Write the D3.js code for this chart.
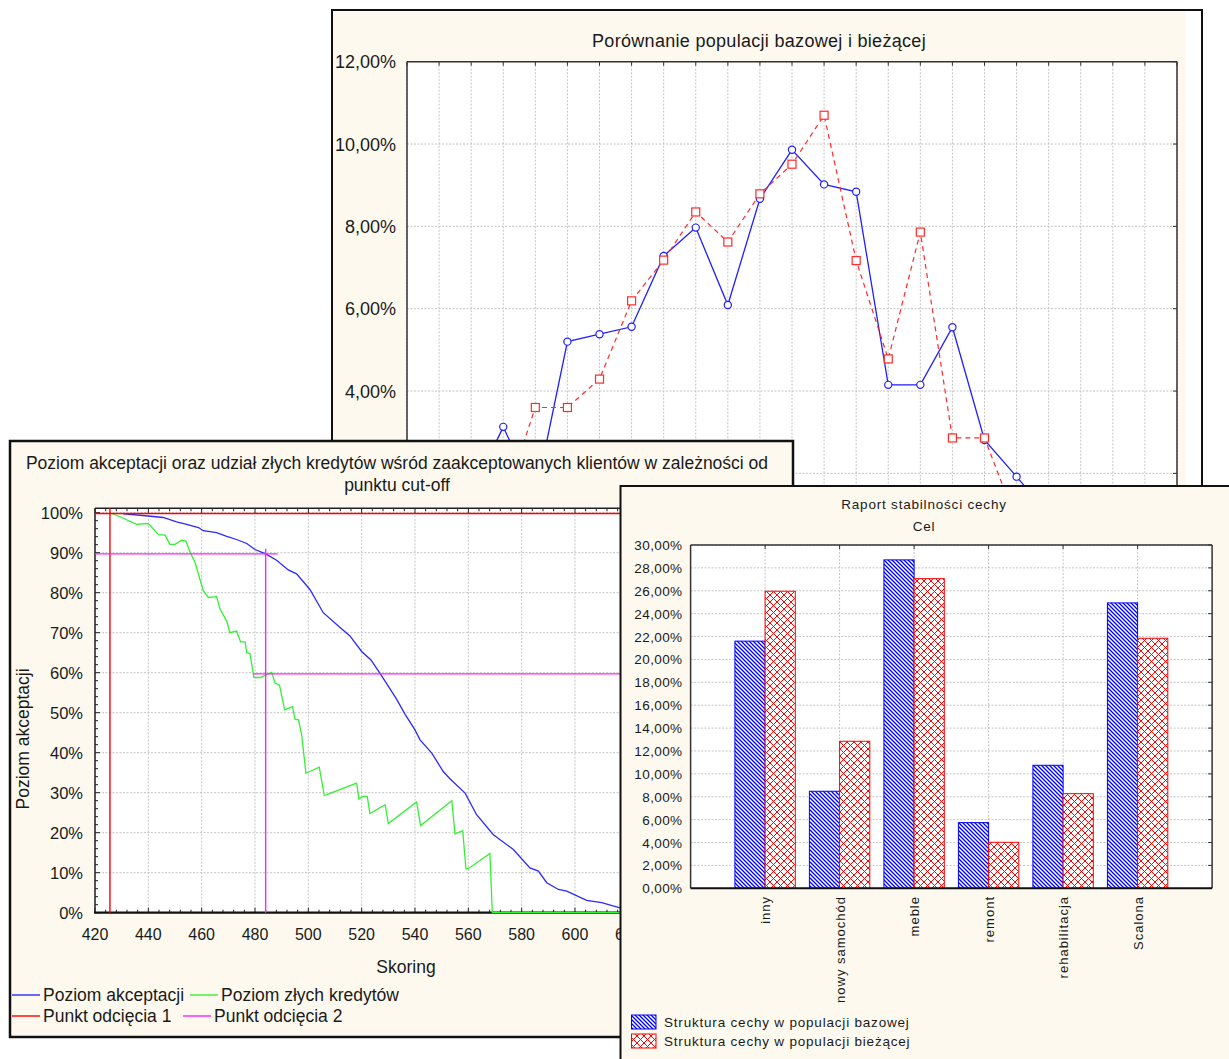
<!DOCTYPE html>
<html>
<head>
<meta charset="utf-8">
<script src="https://d3js.org/d3.v7.min.js"></script>
<style>
  body { margin: 0; background: #fff; }
  svg text { font-family: "Liberation Sans", Arial, sans-serif; fill: #1a1a1a; }
</style>
</head>
<body>
<svg id="chart" width="1229" height="1059"></svg>
<script>
// ---------- data: top chart (population comparison) ----------
var popBins = ["1","2","3","4","5","6","7","8","9","10","11","12","13",
               "14","15","16","17","18","19","20","21","22","23","24","25"];
var popBase = [0.2, 0.6, 1.5, 3.13, 1.44, 5.20, 5.38, 5.56, 7.28, 7.97, 6.09, 8.67, 9.86,
               9.02, 8.84, 4.15, 4.15, 5.55, 2.81, 1.92, 1.0, 0.6, 0.3, 0.1, 0.05];
var popCurrent = [0.1, 0.4, 0.9, 1.26, 3.60, 3.60, 4.29, 6.19, 7.18, 8.35, 7.62, 8.79, 9.51,
                  10.70, 7.17, 4.78, 7.86, 2.86, 2.86, 0.83, 0.5, 0.3, 0.1, 0.05, 0.0];
var popTicks = [0, 2, 4, 6, 8, 10, 12];

// ---------- data: left chart (acceptance vs bad rate) ----------
var acceptRate = [[430.6,99.7],[438,99.3],[445.6,98.8],[450.6,97.7],[454.4,97.1],[458.8,96.3],
  [460.6,95.5],[465.6,95.0],[469.4,94.1],[473.1,93.3],[476.9,92.3],[480,90.8],[484,89.7],
  [488.1,88.1],[492.5,85.7],[495.6,84.7],[500.6,80.8],[505.6,75.0],[511.9,71.3],[515.6,69.2],
  [520,65.3],[523.5,63.2],[527.5,59.2],[533.1,53.4],[536.3,49.6],[540,45.7],[541.9,43.2],
  [546.3,39.9],[550.6,35.3],[553.1,33.5],[558.8,29.9],[563.1,24.5],[569.4,19.5],[576.9,15.8],
  [583.1,11.2],[586.3,10.4],[589.4,7.5],[593.8,5.8],[596.9,5.4],[604.4,3.1],[610,2.5],[616.9,1.2],
  [625,0.6],[640,0.2]];
var badRate = [[426.3,99.8],[430,98.8],[435.6,97.1],[439.4,97.3],[440.5,97.0],[443.8,94.5],
  [446.3,94.4],[448.1,92.1],[450,92.1],[452.5,93.1],[454.1,92.9],[455.6,90.2],[457.5,87.6],
  [460.6,80.5],[462.5,78.8],[465.6,79.0],[466.9,75.9],[469.4,72.9],[470.6,70.0],[473.1,70.4],
  [474.6,67.7],[476.3,67.7],[476.9,65.0],[478.1,64.8],[479.6,58.8],[481.9,58.8],[485.6,59.9],
  [486.3,60.1],[487.5,57.4],[489.2,56.9],[491.1,50.7],[492.5,51.1],[494.1,51.5],[495,48.4],
  [496.3,48.2],[497.5,44.5],[499.1,34.9],[500.6,35.3],[504.1,36.4],[506,29.3],[506.9,29.5],
  [518.1,32.4],[519,28.4],[520.6,29.1],[522.1,29.1],[523.1,24.8],[528.8,27.0],[530,22.3],
  [540.6,27.7],[542.1,21.8],[553.8,28.0],[555,19.7],[557.9,20.5],[559.1,11.0],[560,11.0],
  [568.1,14.8],[569,0],[650,0]];
// cut-off markers, each segment: [score from, level from, score to, level to]
var cutoff1 = [[425.6, 0, 425.6, 101.1], [420, 99.8, 650, 99.8]];
var cutoff2 = [[484, 0, 484, 91], [420, 89.7, 488.5, 89.7], [479.4, 59.7, 650, 59.7]];
var scoreTicks = [420, 440, 460, 480, 500, 520, 540, 560, 580, 600, 620, 640];
var pctTicks = [0, 10, 20, 30, 40, 50, 60, 70, 80, 90, 100];

// ---------- data: right chart (stability report) ----------
var categories = ["inny", "nowy samochód", "meble", "remont", "rehabilitacja", "Scalona"];
var structBase = [21.6, 8.48, 28.7, 5.74, 10.75, 24.94];
var structCurrent = [25.96, 12.85, 27.06, 4.02, 8.27, 21.85];
var structTicks = [0, 2, 4, 6, 8, 10, 12, 14, 16, 18, 20, 22, 24, 26, 28, 30];

var cream = "#fdf9ee";
var gridColor = "#c4c4c4";
var fmtPL = d3.formatLocale({decimal: ",", thousands: " ", grouping: [3], currency: ["", " zł"]}).format(".2f");

var svg = d3.select("#chart");

// patterns for the bars
var defs = svg.append("defs");
var hb = defs.append("pattern").attr("id", "hatchBlue")
  .attr("patternUnits", "userSpaceOnUse").attr("width", 4).attr("height", 4);
hb.append("rect").attr("width", 4).attr("height", 4).attr("fill", "#fff");
hb.append("path").attr("d", "M-1,-1L5,5M3,-1L5,1M-1,3L1,5")
  .attr("stroke", "#0000ff").attr("stroke-width", 1.3);
var hr = defs.append("pattern").attr("id", "hatchRed")
  .attr("patternUnits", "userSpaceOnUse").attr("width", 7).attr("height", 7);
hr.append("rect").attr("width", 7).attr("height", 7).attr("fill", "#fff");
hr.append("path").attr("d", "M0,0L7,7M7,0L0,7")
  .attr("stroke", "#ff0000").attr("stroke-width", 1);

function hline(g, x1, x2, y, color, w, dash) {
  return g.append("line").attr("x1", x1).attr("x2", x2).attr("y1", y).attr("y2", y)
    .attr("stroke", color).attr("stroke-width", w || 1).attr("stroke-dasharray", dash || null);
}
function vline(g, x, y1, y2, color, w, dash) {
  return g.append("line").attr("x1", x).attr("x2", x).attr("y1", y1).attr("y2", y2)
    .attr("stroke", color).attr("stroke-width", w || 1).attr("stroke-dasharray", dash || null);
}

// =====================================================
// Window 1: Porównanie populacji bazowej i bieżącej
// =====================================================
var w1 = svg.append("g");
w1.append("rect").attr("x", 332).attr("y", 10).attr("width", 870).attr("height", 1000)
  .attr("fill", "#fff").attr("stroke", "#111").attr("stroke-width", 2);
w1.append("rect").attr("x", 333).attr("y", 11).attr("width", 853).attr("height", 998).attr("fill", cream);

var x1 = d3.scaleLinear().domain([0, popBins.length - 1]).range([407, 1177]);
var y1 = d3.scaleLinear().domain([0, 12]).range([555.7, 61.7]);

w1.append("rect").attr("x", x1.range()[0]).attr("y", y1.range()[1])
  .attr("width", x1.range()[1] - x1.range()[0]).attr("height", y1.range()[0] - y1.range()[1])
  .attr("fill", "#fff");

popBins.forEach(function(b, i) {
  vline(w1, x1(i), y1.range()[1], y1.range()[0], gridColor, 1, "2,1.5");
  vline(w1, x1(i), y1.range()[1], y1.range()[1] + 4, "#333", 1);
});
popTicks.forEach(function(t) {
  hline(w1, x1.range()[0], x1.range()[1], y1(t), gridColor, 1, "2,1.5");
  hline(w1, x1.range()[1] - 4, x1.range()[1], y1(t), "#333", 1);
  w1.append("text").attr("x", 396).attr("y", y1(t) + 6.5).attr("text-anchor", "end")
    .style("font-size", "18px").text(fmtPL(t) + "%");
});
hline(w1, x1.range()[0], x1.range()[1], y1.range()[1], "#333", 1.5);
vline(w1, x1.range()[0], y1.range()[1], y1.range()[0], "#333", 1.5);
vline(w1, x1.range()[1], y1.range()[1], y1.range()[0], "#333", 1.5);

w1.append("text").attr("x", 759).attr("y", 46.5).attr("text-anchor", "middle")
  .style("font-size", "18px").style("letter-spacing", "0.3px")
  .text("Porównanie populacji bazowej i bieżącej");

var lineIdx = d3.line().x(function(d, i) { return x1(i); }).y(function(d) { return y1(d); });

w1.append("path").attr("d", lineIdx(popBase)).attr("fill", "none")
  .attr("stroke", "#1f1fff").attr("stroke-width", 1.3);
w1.selectAll("circle.base").data(popBase).enter().append("circle")
  .attr("cx", function(d, i) { return x1(i); }).attr("cy", function(d) { return y1(d); })
  .attr("r", 3.6).attr("fill", "#fff").attr("stroke", "#1f1fff").attr("stroke-width", 1.2);

w1.append("path").attr("d", lineIdx(popCurrent)).attr("fill", "none")
  .attr("stroke", "#ff2a2a").attr("stroke-width", 1.2).attr("stroke-dasharray", "5,4");
w1.selectAll("rect.cur").data(popCurrent).enter().append("rect")
  .attr("x", function(d, i) { return x1(i) - 4; }).attr("y", function(d) { return y1(d) - 4; })
  .attr("width", 8).attr("height", 8)
  .attr("fill", "#fff").attr("stroke", "#ff2a2a").attr("stroke-width", 1.2);

// =====================================================
// Window 2: Poziom akceptacji ...
// =====================================================
var w2 = svg.append("g");
w2.append("rect").attr("x", 10).attr("y", 441).attr("width", 783).attr("height", 596)
  .attr("fill", cream).attr("stroke", "#111").attr("stroke-width", 2.5);

var x2 = d3.scaleLinear().domain([420, 650]).range([95, 708.3]);
var y2 = d3.scaleLinear().domain([0, 101.1]).range([912.7, 508.3]);

w2.append("rect").attr("x", x2.range()[0]).attr("y", y2.range()[1])
  .attr("width", x2.range()[1] - x2.range()[0]).attr("height", y2.range()[0] - y2.range()[1])
  .attr("fill", "#fff");

scoreTicks.forEach(function(t) {
  vline(w2, x2(t), y2.range()[1], y2.range()[0], gridColor, 1, "2,1.5");
  w2.append("text").attr("x", x2(t)).attr("y", 940).attr("text-anchor", "middle")
    .style("font-size", "16px").text(t);
});
pctTicks.forEach(function(t) {
  hline(w2, x2.range()[0], x2.range()[1], y2(t), gridColor, 1, "2,1.5");
  w2.append("text").attr("x", 83).attr("y", y2(t) + 6).attr("text-anchor", "end")
    .style("font-size", "16.5px").text(t + "%");
});
// minor ticks
d3.range(420, 651, 4).forEach(function(t) {
  var big = (t % 20 === 0) ? 5 : 3;
  vline(w2, x2(t), y2.range()[0] - big, y2.range()[0], "#222", 1);
  vline(w2, x2(t), y2.range()[1], y2.range()[1] + big, "#222", 1);
});
d3.range(0, 101, 2).forEach(function(t) {
  var big = (t % 10 === 0) ? 5 : 3;
  hline(w2, x2.range()[0], x2.range()[0] + big, y2(t), "#222", 1);
});
hline(w2, x2.range()[0], x2.range()[1], y2.range()[1], "#222", 1.5);
vline(w2, x2.range()[0], y2.range()[1], y2.range()[0], "#222", 1.5);
hline(w2, x2.range()[0] - 1, x2.range()[1], y2.range()[0], "#111", 2.2);

var lineXY = d3.line().x(function(d) { return x2(d[0]); }).y(function(d) { return y2(d[1]); });

function drawSegs(segs, color) {
  segs.forEach(function(s) {
    w2.append("line").attr("x1", x2(s[0])).attr("y1", y2(s[1]))
      .attr("x2", x2(s[2])).attr("y2", y2(s[3]))
      .attr("stroke", color).attr("stroke-width", 1.4);
  });
}

w2.append("path").attr("d", lineXY(acceptRate)).attr("fill", "none")
  .attr("stroke", "#2a2aff").attr("stroke-width", 1.3);
w2.append("path").attr("d", lineXY(badRate)).attr("fill", "none")
  .attr("stroke", "#33f033").attr("stroke-width", 1.3);
drawSegs(cutoff1, "#ff0000");
drawSegs(cutoff2, "#ff22ff");

w2.append("text").attr("x", 397).attr("y", 469).attr("text-anchor", "middle")
  .style("font-size", "17.5px")
  .text("Poziom akceptacji oraz udział złych kredytów wśród zaakceptowanych klientów w zależności od");
w2.append("text").attr("x", 397).attr("y", 491).attr("text-anchor", "middle")
  .style("font-size", "17.5px").text("punktu cut-off");
w2.append("text").attr("x", 406).attr("y", 973).attr("text-anchor", "middle")
  .style("font-size", "17.5px").text("Skoring");
w2.append("text").attr("transform", "translate(29,739) rotate(-90)").attr("text-anchor", "middle")
  .style("font-size", "17.5px").text("Poziom akceptacji");

var leg2 = [
  {label: "Poziom akceptacji", color: "#2a2aff", x: 12, y: 995},
  {label: "Poziom złych kredytów", color: "#33f033", x: 190, y: 995},
  {label: "Punkt odcięcia 1", color: "#ff0000", x: 12, y: 1016},
  {label: "Punkt odcięcia 2", color: "#ff22ff", x: 183, y: 1016}
];
leg2.forEach(function(l) {
  hline(w2, l.x, l.x + 28, l.y, l.color, 1.4);
  w2.append("text").attr("x", l.x + 31).attr("y", l.y + 6).style("font-size", "17.5px").text(l.label);
});

// =====================================================
// Window 3: Raport stabilności cechy
// =====================================================
var w3 = svg.append("g");
w3.append("rect").attr("x", 620.5).attr("y", 486).attr("width", 640).attr("height", 600)
  .attr("fill", cream).attr("stroke", "#111").attr("stroke-width", 2);

var x3 = d3.scaleLinear().domain([0, categories.length + 1]).range([690.6, 1212.1]);
var y3 = d3.scaleLinear().domain([0, 30]).range([888.3, 545]);
var barW = 30.2;

w3.append("rect").attr("x", x3.range()[0]).attr("y", y3.range()[1])
  .attr("width", x3.range()[1] - x3.range()[0]).attr("height", y3.range()[0] - y3.range()[1])
  .attr("fill", "#fff");

structTicks.forEach(function(t) {
  hline(w3, x3.range()[0], x3.range()[1], y3(t), gridColor, 1, "2,1.5");
  hline(w3, x3.range()[1] - 4, x3.range()[1], y3(t), "#333", 1);
  w3.append("text").attr("x", 682.5).attr("y", y3(t) + 5).attr("text-anchor", "end")
    .style("font-size", "13.5px").style("letter-spacing", "0.4px").text(fmtPL(t) + "%");
});
categories.forEach(function(c, i) {
  vline(w3, x3(i + 1), y3.range()[1], y3.range()[0], gridColor, 1, "2,1.5");
  vline(w3, x3(i + 1), y3.range()[1], y3.range()[1] + 4, "#333", 1);
  w3.append("text").attr("transform", "translate(" + (x3(i + 1) + 5) + ",896) rotate(-90)")
    .attr("text-anchor", "end").style("font-size", "13px").style("letter-spacing", "1px").text(c);
});

w3.selectAll("rect.base").data(structBase).enter().append("rect")
  .attr("x", function(d, i) { return x3(i + 1) - barW; })
  .attr("y", function(d) { return y3(d); })
  .attr("width", barW).attr("height", function(d) { return y3(0) - y3(d); })
  .attr("fill", "url(#hatchBlue)").attr("stroke", "#0000ff").attr("stroke-width", 1);
w3.selectAll("rect.cur").data(structCurrent).enter().append("rect")
  .attr("x", function(d, i) { return x3(i + 1); })
  .attr("y", function(d) { return y3(d); })
  .attr("width", barW).attr("height", function(d) { return y3(0) - y3(d); })
  .attr("fill", "url(#hatchRed)").attr("stroke", "#ff0000").attr("stroke-width", 1);

hline(w3, x3.range()[0], x3.range()[1], y3.range()[1], "#333", 1.5);
vline(w3, x3.range()[0], y3.range()[1], y3.range()[0], "#333", 1.5);
vline(w3, x3.range()[1], y3.range()[1], y3.range()[0], "#333", 1.5);
hline(w3, x3.range()[0], x3.range()[1], y3.range()[0], "#111", 2);

w3.append("text").attr("x", 924).attr("y", 509).attr("text-anchor", "middle")
  .style("font-size", "13.5px").style("letter-spacing", "0.8px").text("Raport stabilności cechy");
w3.append("text").attr("x", 924).attr("y", 531).attr("text-anchor", "middle")
  .style("font-size", "13.5px").style("letter-spacing", "0.8px").text("Cel");

var leg3 = [
  {label: "Struktura cechy w populacji bazowej", fill: "url(#hatchBlue)", stroke: "#0000ff", y: 1015},
  {label: "Struktura cechy w populacji bieżącej", fill: "url(#hatchRed)", stroke: "#ff0000", y: 1034}
];
leg3.forEach(function(l) {
  w3.append("rect").attr("x", 631.5).attr("y", l.y).attr("width", 24.5).attr("height", 14)
    .attr("fill", l.fill).attr("stroke", l.stroke).attr("stroke-width", 1);
  w3.append("text").attr("x", 664).attr("y", l.y + 12).style("font-size", "13.5px")
    .style("letter-spacing", "0.8px").text(l.label);
});
</script>
</body>
</html>
